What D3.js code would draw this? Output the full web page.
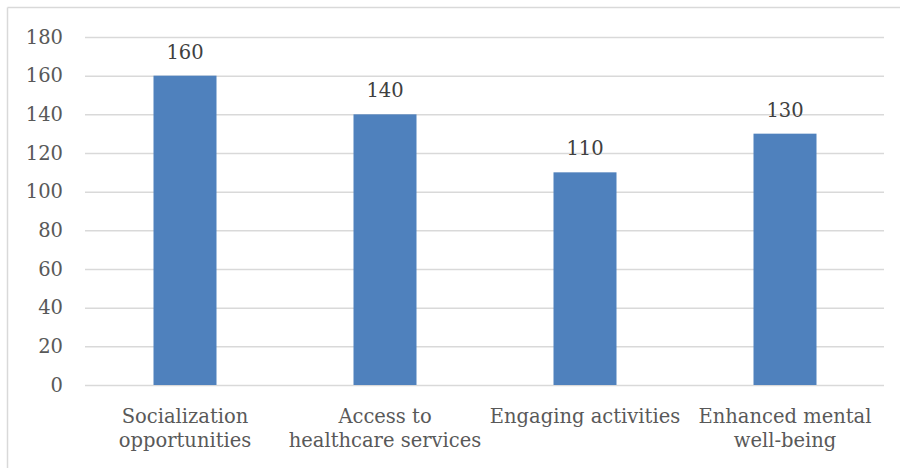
<!DOCTYPE html>
<html>
<head>
<meta charset="utf-8">
<script src="https://cdn.jsdelivr.net/npm/d3@7/dist/d3.min.js"></script>
<style>
  html, body { margin: 0; padding: 0; background: #fff; }
  svg { display: block; }
  text { font-family: "DejaVu Serif", serif; }
</style>
</head>
<body>
<svg id="chart" width="900" height="468"></svg>
<script>
const categories = ["Socialization\nopportunities", "Access to\nhealthcare services", "Engaging activities", "Enhanced mental\nwell-being"];
const values = [160, 140, 110, 130];
const yTicks = [0, 20, 40, 60, 80, 100, 120, 140, 160, 180];

const FONT = "DejaVu Serif";
const FS = 19.5;
const svg = d3.select("#chart");
const W = 900, H = 468;
const plot = { left: 85, right: 885, top: 37, bottom: 385 };

// chart border (top and left visible)
svg.append("line").attr("x1", 7.5).attr("x2", W).attr("y1", 7.5).attr("y2", 7.5)
  .attr("stroke", "#d9d9d9").attr("stroke-width", 1.5);
svg.append("line").attr("x1", 7.5).attr("x2", 7.5).attr("y1", 7.5).attr("y2", H)
  .attr("stroke", "#d9d9d9").attr("stroke-width", 1.5);

const x = d3.scaleBand().domain(categories).range([plot.left, plot.right])
  .paddingInner(0.685).paddingOuter(0.3425);
const y = d3.scaleLinear().domain([0, 180]).range([plot.bottom, plot.top]);

// gridlines
const yAxis = d3.axisLeft(y).tickValues(yTicks).tickSize(-(plot.right - plot.left - 1)).tickPadding(22);
const gy = svg.append("g").attr("transform", `translate(${plot.left},0)`).call(yAxis);
gy.select(".domain").remove();
gy.selectAll(".tick line").attr("stroke", "#d9d9d9").attr("stroke-width", 1.5);
gy.selectAll(".tick text").attr("fill", "#595959").attr("font-size", FS)
  .style("font-family", FONT);

// bars
svg.append("g").selectAll("rect").data(values).join("rect")
  .attr("x", (d, i) => x(categories[i]))
  .attr("y", d => y(d))
  .attr("width", x.bandwidth())
  .attr("height", d => y(0) - y(d))
  .attr("fill", "#4f81bd");

// value labels
svg.append("g").selectAll("text").data(values).join("text")
  .attr("x", (d, i) => x(categories[i]) + x.bandwidth() / 2)
  .attr("y", d => y(d) - 17)
  .attr("text-anchor", "middle")
  .attr("fill", "#404040").attr("font-size", FS)
  .style("font-family", FONT)
  .text(d => d);

// x axis labels
const xAxis = d3.axisBottom(x).tickSize(0).tickFormat("");
const gx = svg.append("g").attr("transform", `translate(0,${plot.bottom})`).call(xAxis);
gx.select(".domain").remove();
gx.selectAll(".tick").each(function(d) {
  const lines = d.split("\n");
  const t = d3.select(this).append("text")
    .attr("text-anchor", "middle").attr("fill", "#595959").attr("font-size", FS)
    .style("font-family", FONT);
  lines.forEach((ln, i) => {
    t.append("tspan").attr("x", 0).attr("y", 38 + i * 24).text(ln);
  });
});
</script>
</body>
</html>
